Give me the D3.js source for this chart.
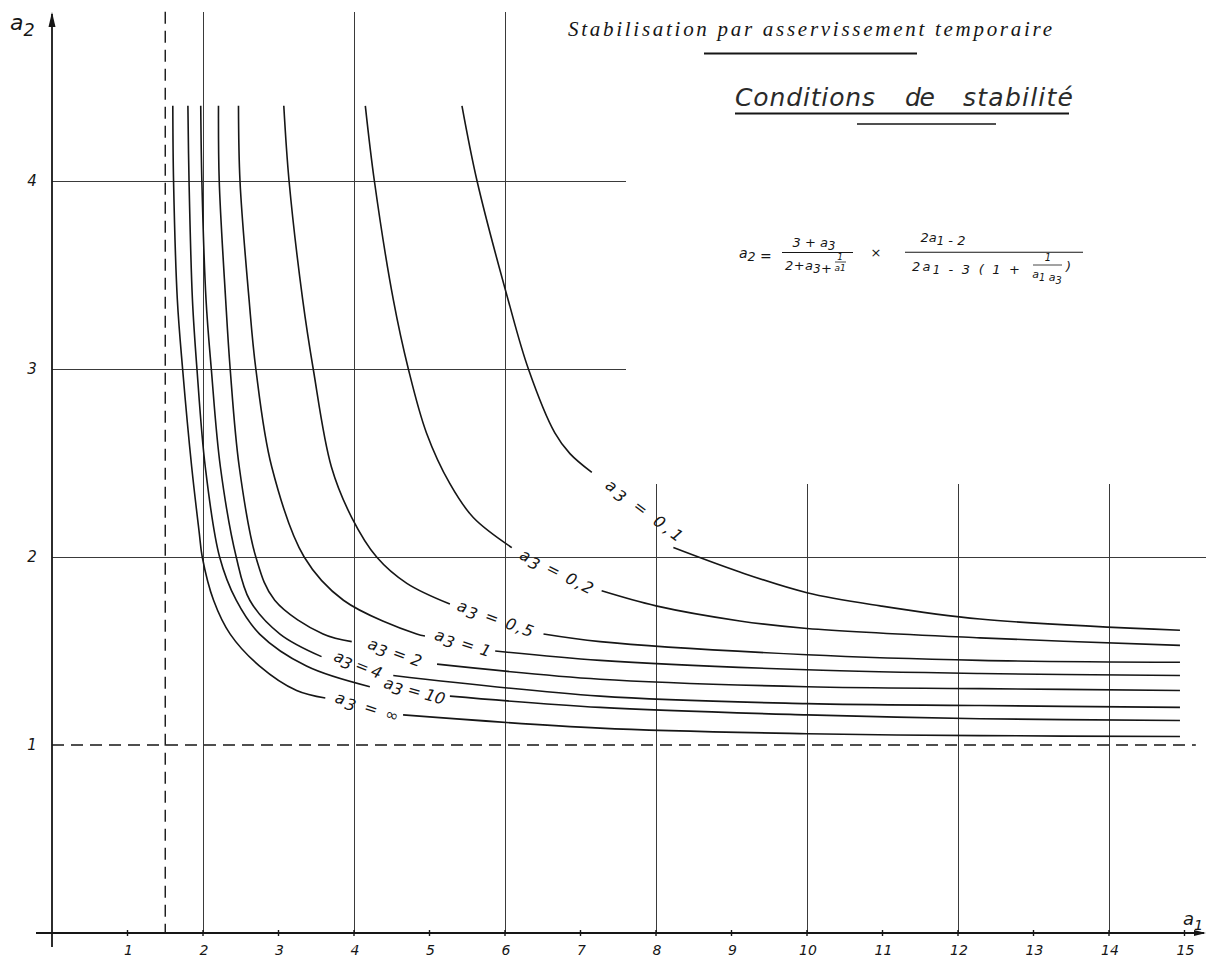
<!DOCTYPE html>
<html>
<head>
<meta charset="utf-8">
<script src="https://cdn.jsdelivr.net/npm/d3@7"></script>
<style>
  html, body { margin: 0; padding: 0; background: #fff; }
  svg { display: block; }
</style>
</head>
<body>
<svg id="chart" width="1206" height="958"></svg>
<script>
// ---- data (a1 on x, a2 on y) ----
const xTicks = [1, 2, 3, 4, 5, 6, 7, 8, 9, 10, 11, 12, 13, 14, 15];
const yTicks = [1, 2, 3, 4];
const curveNames = ["0,1", "0,2", "0,5", "1", "2", "4", "10", "∞"];

// null = gap where the hand-written label sits on the curve
const a3_01 = [[5.43,4.40],[5.63,4.00],[6.04,3.37],[6.31,3.00],[6.66,2.66],[6.86,2.55],[7.15,2.45],null,
  [8.23,2.05],[9.11,1.92],[10.0,1.81],[10.97,1.74],[12.29,1.67],[14.94,1.61]];
const a3_02 = [[4.15,4.40],[4.27,4.00],[4.52,3.37],[4.72,3.00],[4.96,2.66],[5.27,2.39],[5.58,2.21],[6.09,2.05],null,
  [7.28,1.82],[8.00,1.74],[9.11,1.66],[10.0,1.62],[12.29,1.57],[14.94,1.53]];
const a3_05 = [[3.07,4.40],[3.14,4.00],[3.32,3.37],[3.46,3.00],[3.70,2.48],[3.97,2.21],[4.30,2.00],[4.70,1.86],[5.27,1.75],null,
  [6.51,1.59],[7.26,1.55],[10.0,1.48],[12.29,1.45],[14.94,1.44]];
const a3_1 = [[2.47,4.40],[2.49,4.00],[2.61,3.37],[2.70,3.00],[2.91,2.48],[3.34,2.00],[3.86,1.77],[4.83,1.59],[4.94,1.58],null,
  [5.87,1.50],[7.26,1.45],[10.0,1.40],[12.29,1.38],[14.94,1.37]];
const a3_2 = [[2.205,4.40],[2.215,4.00],[2.30,3.37],[2.36,3.00],[2.48,2.48],[2.70,2.00],[2.95,1.77],[3.59,1.59],[3.97,1.55],null,
  [5.10,1.43],[7.26,1.35],[10.0,1.31],[12.29,1.30],[14.94,1.29]];
const a3_4 = [[1.97,4.40],[1.985,4.00],[2.04,3.37],[2.11,3.00],[2.23,2.48],[2.44,2.00],[2.62,1.77],[3.02,1.59],[3.57,1.47],null,
  [4.52,1.37],[7.26,1.26],[10.0,1.22],[12.29,1.21],[14.94,1.20]];
const a3_10 = [[1.80,4.40],[1.815,4.00],[1.86,3.37],[1.92,3.00],[2.03,2.48],[2.22,2.00],[2.44,1.77],[2.75,1.59],[3.37,1.42],[4.21,1.31],null,
  [5.27,1.26],[7.26,1.20],[10.0,1.16],[12.29,1.14],[14.94,1.13]];
const a3_inf = [[1.60,4.40],[1.61,4.00],[1.66,3.37],[1.73,3.00],[1.85,2.48],[1.95,2.13],[1.99,2.00],[2.14,1.77],[2.36,1.59],[2.75,1.42],[3.24,1.29],[3.62,1.25],null,
  [4.65,1.16],[7.26,1.09],[10.0,1.06],[12.29,1.05],[14.94,1.045]];
const curves = [a3_01, a3_02, a3_05, a3_1, a3_2, a3_4, a3_10, a3_inf];

// ---- layout ----
const W = 1206, H = 958;
const ink = "#161616";
const x = d3.scaleLinear().domain([0, 15]).range([52, 1184.5]);
const y = d3.scaleLinear().domain([0, 4]).range([933, 181]);

// where each label sits on its curve: a1, a2, slant (deg), drawn length (px)
const labelSpots = [[7.84,2.245,37,92],[6.68,1.92,27,80],[5.87,1.67,20,80],[5.44,1.54,18,58],
  [4.54,1.49,20,56],[4.05,1.425,22,50],[4.80,1.285,16,63],[4.17,1.20,18,66]];

const svg = d3.select("#chart");
svg.append("rect").attr("width", W).attr("height", H).attr("fill", "#fff");

const hand = "'DejaVu Sans', 'Liberation Sans', sans-serif";

// grid: long verticals reach the top, short ones stop around a2≈2.4
const gridTop = 4.9, gridShortTop = 2.39;
const longV = [2, 4, 6], shortV = [8, 10, 12, 14];
const g = svg.append("g").attr("stroke", "#3a3a3a").attr("stroke-width", 1).attr("shape-rendering", "crispEdges");
longV.forEach(v => g.append("line").attr("x1", x(v)).attr("x2", x(v)).attr("y1", y(gridTop)).attr("y2", y(0)));
shortV.forEach(v => g.append("line").attr("x1", x(v)).attr("x2", x(v)).attr("y1", y(gridShortTop)).attr("y2", y(0)));
[3, 4].forEach(v => g.append("line").attr("x1", x(0)).attr("x2", x(7.6)).attr("y1", y(v)).attr("y2", y(v)));
g.append("line").attr("x1", x(0)).attr("x2", W).attr("y1", y(2)).attr("y2", y(2));

// asymptotes (dashed): a1 = 1.5 and a2 = 1
const dash = svg.append("g").attr("stroke", ink).attr("stroke-width", 1.4).attr("stroke-dasharray", "12,7");
dash.append("line").attr("x1", x(1.5)).attr("x2", x(1.5)).attr("y1", y(gridTop)).attr("y2", y(0));
dash.append("line").attr("x1", x(0)).attr("x2", x(15.15)).attr("y1", y(1)).attr("y2", y(1));

// axes
const ax = svg.append("g").attr("stroke", ink).attr("stroke-width", 1.8);
ax.append("line").attr("x1", x(0)).attr("x2", x(0)).attr("y1", 14).attr("y2", y(0) + 14);
ax.append("line").attr("x1", 36).attr("x2", W - 2).attr("y1", y(0)).attr("y2", y(0));
svg.append("path").attr("d", `M${x(0)},12 L${x(0) - 3.5},27 L${x(0) + 3.5},27 Z`).attr("fill", ink);
svg.append("path").attr("d", `M${W},${y(0)} L${W - 12},${y(0) - 3} L${W - 12},${y(0) + 3} Z`).attr("fill", ink);

// small tick marks on the a1 axis
svg.append("g").selectAll("line").data(xTicks).join("line")
  .attr("x1", d => x(d)).attr("x2", d => x(d))
  .attr("y1", y(0) - 3).attr("y2", y(0) + 3)
  .attr("stroke", ink).attr("stroke-width", 1.4);

// tick labels
svg.append("g").selectAll("text").data(xTicks).join("text")
  .attr("x", d => x(d) + 1).attr("y", 955)
  .attr("text-anchor", "middle").attr("font-family", hand).attr("font-style", "italic")
  .attr("font-size", 14).attr("fill", ink).text(d => d);
svg.append("g").selectAll("text").data(yTicks).join("text")
  .attr("x", 32).attr("y", d => y(d) + 5)
  .attr("text-anchor", "middle").attr("font-family", hand).attr("font-style", "italic")
  .attr("font-size", 15).attr("fill", ink).text(d => d);

// axis names
function subText(sel, main, sub, size) {
  sel.append("tspan").text(main);
  sel.append("tspan").attr("dy", size * 0.28).attr("font-size", size * 0.8).text(sub);
}
subText(svg.append("text").attr("x", 10).attr("y", 30).attr("font-family", hand).attr("font-style", "italic")
  .attr("font-size", 22).attr("fill", ink), "a", "2", 22);
subText(svg.append("text").attr("x", 1183).attr("y", 925).attr("font-family", hand).attr("font-style", "italic")
  .attr("font-size", 18).attr("fill", ink), "a", "1", 18);

// curves
const line = d3.line().defined(d => d !== null)
  .x(d => x(d[0])).y(d => y(d[1])).curve(d3.curveCatmullRom.alpha(0.5));
svg.append("g").selectAll("path").data(curves).join("path")
  .attr("d", line).attr("fill", "none").attr("stroke", ink).attr("stroke-width", 1.6);

// curve labels
curveNames.forEach((name, i) => {
  const [a1, a2, ang, len] = labelSpots[i];
  const t = svg.append("text")
    .attr("transform", `translate(${x(a1)},${y(a2)}) rotate(${ang})`)
    .attr("text-anchor", "middle").attr("dominant-baseline", "middle")
    .attr("font-family", hand).attr("font-style", "italic").attr("font-size", 16)
    .attr("textLength", len).attr("lengthAdjust", "spacing")
    .attr("fill", ink);
  t.append("tspan").text("a");
  t.append("tspan").attr("dy", 3).text("3");
  t.append("tspan").attr("dy", -3).text(" = " + name);
});

// titles
svg.append("text").attr("x", 568).attr("y", 36)
  .attr("font-family", "'Liberation Serif', 'DejaVu Serif', serif").attr("font-style", "italic")
  .attr("font-size", 21).attr("fill", ink)
  .attr("textLength", 484).attr("lengthAdjust", "spacing")
  .text("Stabilisation par asservissement temporaire");
svg.append("line").attr("x1", 704).attr("x2", 917).attr("y1", 53.5).attr("y2", 53.5)
  .attr("stroke", ink).attr("stroke-width", 2);

const subWords = [["Conditions", 735, 140], ["de", 905, 30], ["stabilité", 963, 110]];
subWords.forEach(([w, px, len]) => {
  svg.append("text").attr("x", px).attr("y", 106)
    .attr("font-family", hand).attr("font-style", "italic").attr("font-weight", 200)
    .attr("font-size", 25).attr("fill", "#2a2a2a")
    .attr("textLength", len).attr("lengthAdjust", "spacing").text(w);
});
svg.append("line").attr("x1", 735).attr("x2", 1069).attr("y1", 113.5).attr("y2", 113.5)
  .attr("stroke", ink).attr("stroke-width", 1.8);
svg.append("line").attr("x1", 857).attr("x2", 996).attr("y1", 124).attr("y2", 124)
  .attr("stroke", ink).attr("stroke-width", 1.4);

// formula
const f = svg.append("g").attr("font-family", hand).attr("font-style", "italic").attr("fill", ink);
function ft(px, py, size, parts, anchor, len) {
  const t = f.append("text").attr("x", px).attr("y", py).attr("font-size", size)
    .attr("text-anchor", anchor || "start");
  if (len) t.attr("textLength", len).attr("lengthAdjust", "spacing");
  parts.forEach(p => {
    if (Array.isArray(p)) {
      t.append("tspan").attr("dy", 3).attr("font-size", size * 0.9).text(p[0]);
      t.append("tspan").attr("dy", -3).text("");
    } else t.append("tspan").text(p);
  });
}
const fb = svg.append("g").attr("stroke", ink).attr("stroke-width", 1.1);
ft(739, 258, 14, ["a", ["2"], " ="]);
ft(814, 247, 13, ["3 + a", ["3"]], "middle");
fb.append("line").attr("x1", 782).attr("x2", 853).attr("y1", 252.5).attr("y2", 252.5);
ft(785, 270, 13, ["2+a", ["3"], "+"], "start", 47);
ft(840, 260, 9, ["1"], "middle");
fb.append("line").attr("x1", 835).attr("x2", 846).attr("y1", 262).attr("y2", 262).attr("stroke-width", 0.8);
ft(840, 271, 9, ["a1"], "middle");
ft(876, 257, 13, ["×"], "middle");
ft(943, 242, 13, ["2a", ["1"], " - 2"], "middle");
fb.append("line").attr("x1", 905).attr("x2", 1083).attr("y1", 252.3).attr("y2", 252.3);
ft(912, 271, 13, ["2a", ["1"], " - 3 ( 1 +"], "start", 108);
ft(1048, 261, 10, ["1"], "middle");
fb.append("line").attr("x1", 1033).attr("x2", 1062).attr("y1", 265).attr("y2", 265).attr("stroke-width", 0.8);
ft(1047, 278, 11, ["a", ["1"], " a", ["3"]], "middle");
ft(1066, 271, 13, [")"]);
</script>
</body>
</html>
